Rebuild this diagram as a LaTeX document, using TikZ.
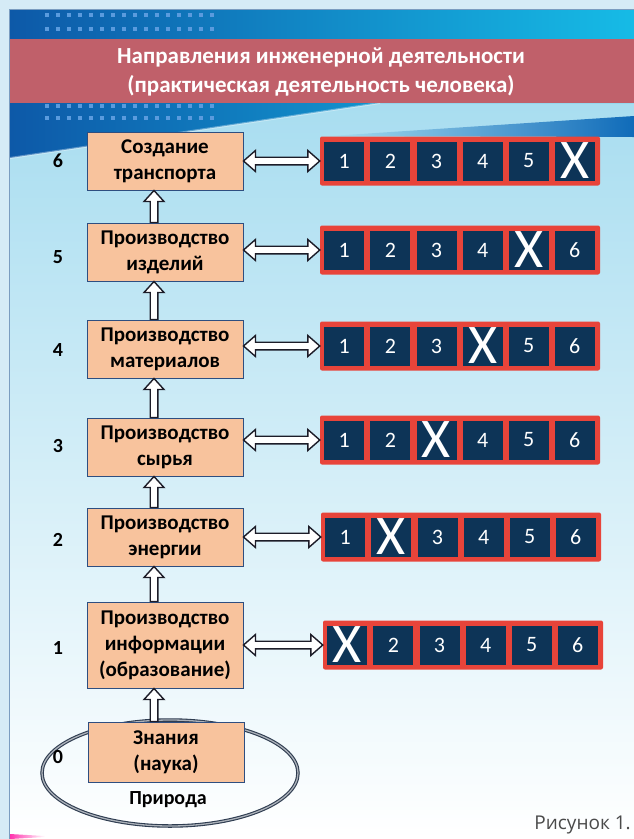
\documentclass[tikz,border=0pt]{standalone}
\usepackage{fontspec}
\setmainfont{Carlito}
\newfontfamily\capfont{Open Sans}
\usetikzlibrary{calc}
\definecolor{frame}{HTML}{D5EBF6}
\definecolor{frameline}{HTML}{7A9CC0}
\definecolor{topL}{HTML}{0D59A8}
\definecolor{topM}{HTML}{0F6BB9}
\definecolor{topR}{HTML}{16BBE6}
\definecolor{band}{HTML}{C0606A}
\definecolor{dotc}{HTML}{5A9BDE}
\definecolor{skyA}{HTML}{A8DDF0}
\definecolor{skyB}{HTML}{D6ECF4}
\definecolor{boxfill}{HTML}{F8C39D}
\definecolor{boxdraw}{HTML}{2E4E80}
\definecolor{cellred}{HTML}{E8443A}
\definecolor{navy}{HTML}{0D3457}
\definecolor{arrc}{HTML}{1C1C28}
\definecolor{ellc}{HTML}{2E3C50}
\definecolor{capc}{HTML}{4A4A4A}
\newcommand\cellX{{\fontsize{56}{56}\selectfont X}}
\tikzset{
  box/.style={draw=boxdraw, line width=1pt, fill=boxfill, minimum width=156, minimum height=58,
    align=center, inner sep=2pt, font=\bfseries\fontsize{21}{26}\selectfont},
  lbl/.style={font=\bfseries\fontsize{20}{24}\selectfont, inner sep=0pt},
  rowbox/.style={fill=cellred, rounded corners=2pt, minimum width=280, minimum height=49, inner sep=0pt},
  cell/.style={fill=navy, minimum width=40, minimum height=39, inner sep=0pt, text=white,
    font=\fontsize{22}{24}\selectfont},
  uparr/.style={draw=arrc, line width=1.4pt, fill=white, line join=miter,
    to path={let \p1=(\tikztostart), \p2=(\tikztotarget) in
      (\x1-3.8pt,\y1) -- (\x1-3.8pt,\y2-11pt) -- (\x1-10pt,\y2-11pt) -- (\x1,\y2)
      -- (\x1+10pt,\y2-11pt) -- (\x1+3.8pt,\y2-11pt) -- (\x1+3.8pt,\y1) -- cycle}},
  dblarr/.style={draw=arrc, line width=1.4pt, fill=white, line join=miter,
    to path={let \p1=(\tikztostart), \p2=(\tikztotarget) in
      (\x1,\y1) -- (\x1+12pt,\y1+10.5pt) -- (\x1+12pt,\y1+3.8pt) -- (\x2-12pt,\y1+3.8pt)
      -- (\x2-12pt,\y1+10.5pt) -- (\x2,\y1) -- (\x2-12pt,\y1-10.5pt) -- (\x2-12pt,\y1-3.8pt)
      -- (\x1+12pt,\y1-3.8pt) -- (\x1+12pt,\y1-10.5pt) -- cycle}},
}
\begin{document}
\begin{tikzpicture}[x=1pt,y=-1pt]
\useasboundingbox (0,0) rectangle (634,839);
% background
\fill[frame] (0,0) rectangle (634,839);
\shade[top color=skyA, middle color=skyB, bottom color=white] (10,100) rectangle (634,839);
\shade[left color=topL, middle color=topM, right color=topR]
  (10,10) -- (634,10) -- (634,103) -- (380,103) -- (10,158) -- cycle;
\shade[left color=skyA, right color=topM] (330,136) -- (634,116) -- (634,137) -- cycle;
\draw[white, opacity=0.35, line width=2pt] (10,158) -- (380,103);
\draw[frameline, line width=0.8pt] (9.5,839) -- (9.5,9.5) -- (634,9.5);
\shade[left color=magenta!60!red!80, right color=white] (10,834) -- (45,836) -- (45,837) -- (10,839) -- cycle;
% dots
\foreach \yy in {15,29,106,118}
  \foreach \i in {0,...,15}
    \fill[dotc] (47+11*\i-2.2,\yy-2.2) rectangle ++(4.4,4.4);
% title band
\fill[band] (10,39) rectangle (634,103);
\node[text=white, font=\bfseries\fontsize{23}{29}\selectfont, align=center] (title) at (321,72)
  {Направления инженерной деятельности\\(практическая деятельность человека)};
% nature ellipse
\draw[draw=ellc, line width=1.1pt, double=white!60!ellc, double distance=1.3pt]
  (170,773) ellipse [x radius=128, y radius=53];
\node[lbl] (nat) at (168,800) {Природа};
% boxes
\node[box] (b6) at (165,161) {Создание\\транспорта};
\node[box] (b5) at (165,252) {Производство\\изделий};
\node[box] (b4) at (165,349) {Производство\\материалов};
\node[box] (b3) at (165,447) {Производство\\сырья};
\node[box] (b2) at (165,537) {Производство\\энергии};
\node[box, minimum height=86] (b1) at (165,645) {Производство\\информации\\(образование)};
\node[box, minimum height=60] (b0) at (166,752) {Знания\\(наука)};
% level labels
\node[lbl] (l6) at (58,161) {6};
\node[lbl] (l5) at (58,257) {5};
\node[lbl] (l4) at (58,350) {4};
\node[lbl] (l3) at (58,446) {3};
\node[lbl] (l2) at (58,540) {2};
\node[lbl] (l1) at (58,648) {1};
\node[lbl] (l0) at (58,757) {0};
% up arrows
\coordinate (ax) at (154,0);
\foreach \a/\b in {b0/b1,b1/b2,b2/b3,b3/b4,b4/b5,b5/b6}
  \draw[uparr] (\a.north -| ax) to (\b.south -| ax);
% rows of cells
\foreach \r/\xx/\yy in {6/460/161,5/460/250,4/460/346,3/460/440,2/461/537,1/463/645}{
  \node[rowbox] (r\r) at (\xx,\yy) {};
  \foreach \k in {1,...,6}
    \node[cell] (r\r-\k) at ($(r\r.west)+(24.5+46.1*\k-46.1,0)$) {\ifnum\k=\r\cellX\else\k\fi};
  \draw[dblarr] (b\r.east |- r\r.west) to (r\r.west);
}
% caption
\node[anchor=base east, text=capc, font=\capfont\fontsize{19}{22}\selectfont, inner sep=0pt] (cap) at (631,829) {Рисунок 1.};
\end{tikzpicture}
\end{document}
